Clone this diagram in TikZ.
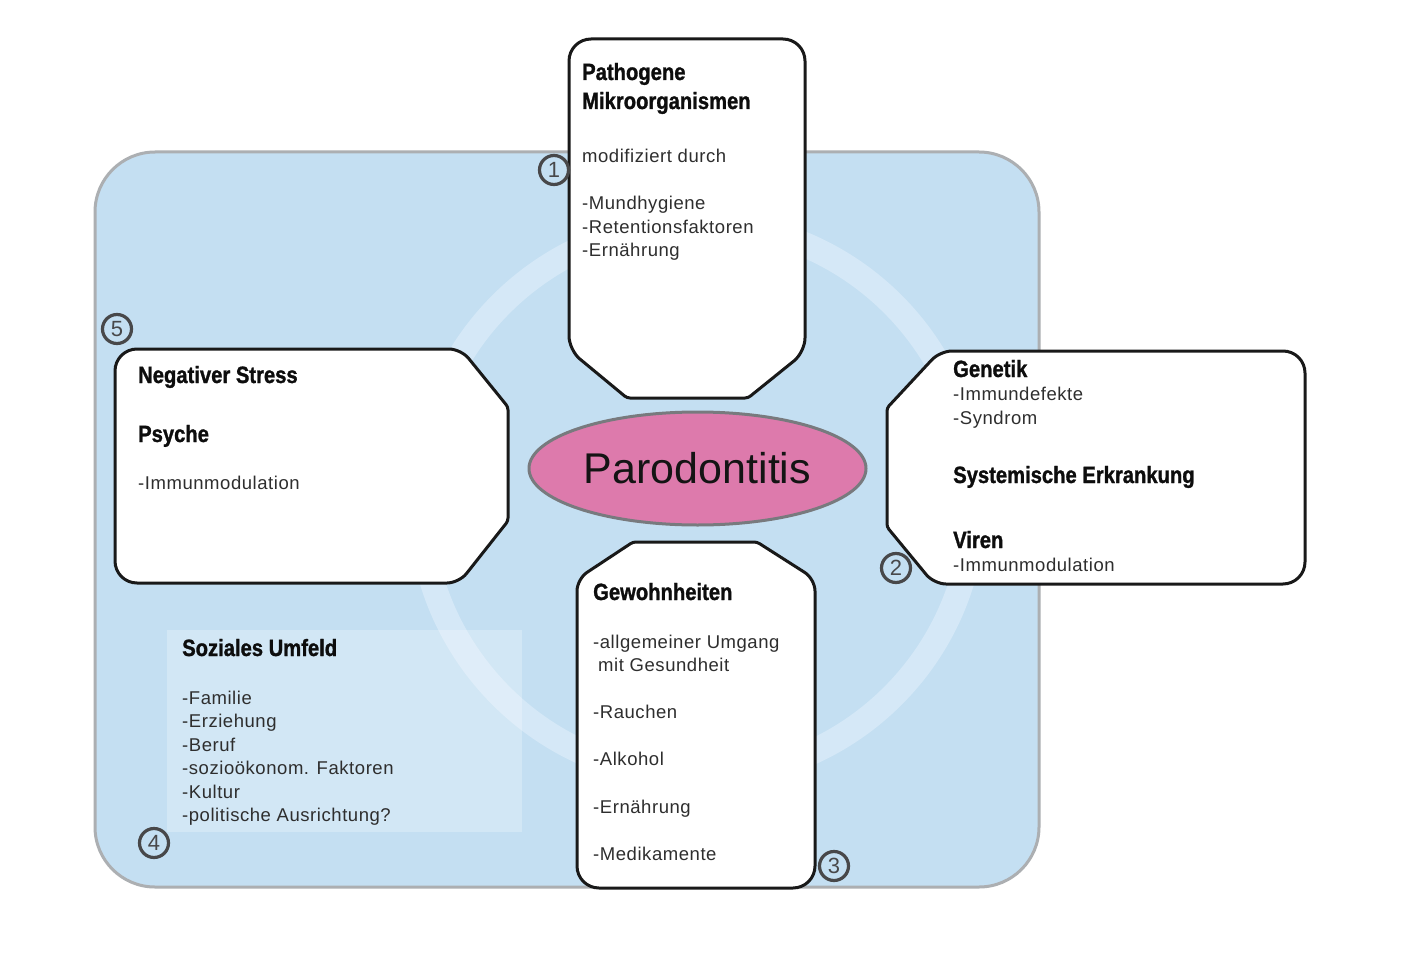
\documentclass[tikz,border=0pt]{standalone}
\usepackage{fontspec}
\usetikzlibrary{shapes.geometric}
\setmainfont{Liberation Sans}
\newfontfamily\headfam{Liberation Sans Bold}[FakeStretch=0.86,FakeBold=1.2]
\newfontfamily\bodyfam{Liberation Sans}[LetterSpace=3]
\newfontfamily\parfam{Liberation Sans}
\definecolor{bgblue}{RGB}{196,223,242}
\definecolor{ringblue}{RGB}{213,232,247}
\definecolor{bggray}{RGB}{172,175,178}
\definecolor{parpink}{RGB}{221,122,172}
\definecolor{pargray}{RGB}{120,122,126}
\definecolor{numgray}{RGB}{72,72,74}
\tikzset{
  bgpanel/.style={fill=bgblue, draw=bggray, line width=3pt, rounded corners=60pt},
  card/.style={fill=white, draw=black!90, line width=3pt, line join=round},
  head/.style={anchor=base west, inner sep=0pt, font=\headfam\fontsize{23.5}{28}\selectfont, text=black!95},
  body/.style={anchor=base west, inner sep=0pt, font=\bodyfam\fontsize{18.5}{22}\selectfont, text=black!82},
  num/.style={circle, draw=numgray, line width=3.2pt, minimum size=29pt, inner sep=0pt, font=\parfam\fontsize{22}{22}\selectfont, text=numgray},
}
\begin{document}
\begin{tikzpicture}[x=1pt, y=-1pt]
\useasboundingbox (0,0) rectangle (1411,971);
\fill[white] (0,0) rectangle (1411,971);
% background panel
\draw[bgpanel] (95,152) rectangle (1039,887);
\draw[ringblue, line width=25pt] (697,500) circle[radius=277pt];
\fill[white, opacity=0.25] (167,630) rectangle (522,832);
% top card
\draw[card] (687,39) [rounded corners=22pt] -- (805,39) [rounded corners=14pt] -- (805,352) [rounded corners=3pt] -- (748,398) -- (627,398) [rounded corners=14pt] -- (569,350) [rounded corners=22pt] -- (569,39) -- cycle;
% left card
\draw[card] (300,583) [rounded corners=22pt] -- (115,583) -- (115,349) [rounded corners=12pt] -- (461,349) [rounded corners=3pt] -- (508,407) -- (508,521) [rounded corners=12pt] -- (459,583) [sharp corners] -- cycle;
% right card
\draw[card] (1100,351) [rounded corners=22pt] -- (1305,351) -- (1305,584) [rounded corners=12pt] -- (934,584) [rounded corners=3pt] -- (887,527) -- (887,408) [rounded corners=12pt] -- (940,351) [sharp corners] -- cycle;
% bottom card
\draw[card] (696,888) [rounded corners=22pt] -- (815,888) [rounded corners=12pt] -- (815,579) [rounded corners=3pt] -- (757,542) -- (633,542) [rounded corners=12pt] -- (577,579) [rounded corners=22pt] -- (577,888) -- cycle;
% centre
\node[ellipse, fill=parpink, draw=pargray, line width=3pt, minimum width=337pt, minimum height=113pt, inner sep=0pt,
      font=\parfam\fontsize{43}{43}\selectfont, text=black!92] (par) at (697.5,468.5) {Parodontitis};
% top texts
\node[head] (t1) at (582,80) {Pathogene};
\node[head] (t2) at (582,109) {Mikroorganismen};
\node[body] (t3) at (582,162) {modifiziert durch};
\node[body] (t4) at (582,209) {-Mundhygiene};
\node[body] (t5) at (582,233) {-Retentionsfaktoren};
\node[body] (t6) at (582,256) {-Ernährung};
% left texts
\node[head] (l1) at (138,383) {Negativer Stress};
\node[head] (l2) at (138,442) {Psyche};
\node[body] (l3) at (138,489) {-Immunmodulation};
% right texts
\node[head] (r1) at (953,377) {Genetik};
\node[body] (r2) at (953,400) {-Immundefekte};
\node[body] (r3) at (953,424) {-Syndrom};
\node[head] (r4) at (953,483) {Systemische Erkrankung};
\node[head] (r5) at (953,548) {Viren};
\node[body] (r6) at (953,571) {-Immunmodulation};
% bottom texts
\node[head] (b1) at (593,600) {Gewohnheiten};
\node[body] (b2) at (593,648) {-allgemeiner Umgang};
\node[body] (b3) at (598,671) {mit Gesundheit};
\node[body] (b4) at (593,718) {-Rauchen};
\node[body] (b5) at (593,765) {-Alkohol};
\node[body] (b6) at (593,813) {-Ernährung};
\node[body] (b7) at (593,860) {-Medikamente};
% social texts
\node[head] (s1) at (182,656) {Soziales Umfeld};
\node[body] (s2) at (182,704) {-Familie};
\node[body] (s3) at (182,727) {-Erziehung};
\node[body] (s4) at (182,751) {-Beruf};
\node[body] (s5) at (182,774) {-sozioökonom. Faktoren};
\node[body] (s6) at (182,798) {-Kultur};
\node[body] (s7) at (182,821) {-politische Ausrichtung?};
% numbers
\node[num] (n1) at (554,170) {1};
\node[num] (n2) at (896,568) {2};
\node[num] (n3) at (834,866) {3};
\node[num] (n4) at (154,843) {4};
\node[num] (n5) at (117,329) {5};
\end{tikzpicture}
\end{document}
